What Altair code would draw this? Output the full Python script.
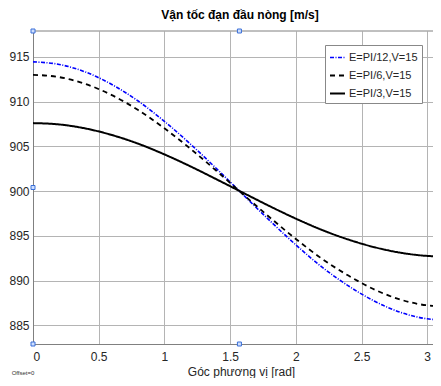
import altair as alt
import pandas as pd

x_rad = [0, 0.2, 0.4, 0.6, 0.8, 1.0, 1.2, 1.4, 1.6, 1.8, 2.0, 2.2, 2.4, 2.6, 2.8, 3.0, 3.1416]
v_pi12 = [914.45, 914.16, 913.31, 911.92, 910.07, 907.80, 905.23, 902.46, 899.58, 896.72,
          893.99, 891.49, 889.40, 887.68, 886.42, 885.72, 885.58]
v_pi6 = [913.0, 912.74, 911.97, 910.73, 909.06, 907.02, 904.71, 902.21, 899.62, 897.08,
         894.65, 892.42, 890.55, 888.98, 887.85, 887.22, 887.1]
v_pi3 = [907.6, 907.45, 907.0, 906.27, 905.3, 904.1, 902.75, 901.29, 899.8, 898.32,
         896.92, 895.65, 894.58, 893.72, 893.1, 892.75, 892.68]
series = ["E=PI/12,V=15", "E=PI/6,V=15", "E=PI/3,V=15"]

handle_x = [0, 1.5708, 0, 0, 1.5708]
handle_y = [917.9, 917.9, 900.4, 882.9, 882.9]

rows = []
for name, vals in zip(series, [v_pi12, v_pi6, v_pi3]):
    for xv, yv in zip(x_rad, vals):
        rows.append({"x": xv, "v": yv, "series": name})
df = pd.DataFrame(rows)
hdf = pd.DataFrame({"x": handle_x, "v": handle_y})

W, H = 400, 313
FONT = "Liberation Sans"
xscale = alt.Scale(domain=[0, 3.044], nice=False, zero=False)
yscale = alt.Scale(domain=[882.9, 917.9], nice=False, zero=False)

xaxis = alt.Axis(values=[0, 0.5, 1, 1.5, 2, 2.5, 3], format="~g", ticks=False,
                 labelFont=FONT, labelFontSize=12, labelColor="#262626", labelPadding=7,
                 titleFont=FONT, titleFontSize=12, titleFontWeight="normal", titleColor="#262626",
                 titleX=208, titleY=31, titleBaseline="alphabetic",
                 grid=True, gridColor="#b4b4b4", domainColor="#808080")
yaxis = alt.Axis(values=[885, 890, 895, 900, 905, 910, 915], ticks=False,
                 labelFont=FONT, labelFontSize=12, labelColor="#262626", labelPadding=4,
                 grid=True, gridColor="#b4b4b4", domainColor="#808080")

lines = alt.Chart(df).mark_line(clip=True, interpolate="monotone").encode(
    x=alt.X("x:Q", scale=xscale, axis=xaxis, title="Góc phương vị [rad]"),
    y=alt.Y("v:Q", scale=yscale, axis=yaxis, title=None),
    color=alt.Color("series:N", scale=alt.Scale(domain=series, range=["#0000ff", "#000000", "#000000"]),
                    legend=alt.Legend(title=None)),
    strokeDash=alt.StrokeDash("series:N", scale=alt.Scale(domain=series, range=[[4, 1.5, 1, 1.5], [5, 4], [1, 0]]),
                              legend=alt.Legend(title=None)),
    strokeWidth=alt.StrokeWidth("series:N", scale=alt.Scale(domain=series, range=[1.6, 2, 2]), legend=None),
)

handles = alt.Chart(hdf).mark_point(shape="square", size=16, filled=True, fill="#cfe0ff",
                                    stroke="#3a6fd8", strokeWidth=1, opacity=1, clip=False).encode(
    x=alt.X("x:Q", scale=xscale), y=alt.Y("v:Q", scale=yscale))

top_rule = alt.Chart(alt.Data(values=[{}])).mark_rule(color="#808080", strokeWidth=1).encode(
    x=alt.value(0), x2=alt.value(W), y=alt.value(0))

offset_txt = alt.Chart(alt.Data(values=[{}])).mark_text(
    text="Offset=0", font=FONT, fontSize=6, color="#333333", align="center").encode(
    x=alt.value(-10), y=alt.value(342))

chart = alt.layer(top_rule, lines, handles, offset_txt).properties(
    width=W, height=H,
    title=alt.TitleParams("Vận tốc đạn đầu nòng [m/s]", font=FONT, fontSize=12, fontWeight="bold",
                          color="black", offset=5, dx=7),
    padding={"left": 25, "top": 23, "right": 0, "bottom": 34},
    autosize=alt.AutoSizeParams(type="none"),
).configure_view(stroke=None).configure_legend(
    orient="none", legendX=292, legendY=14, symbolType="stroke", symbolSize=225,
    symbolStrokeWidth=2, labelFont=FONT, labelFontSize=11, labelColor="#262626",
    rowPadding=4, labelOffset=3, padding=4, strokeColor="#888888", fillColor="white",
    cornerRadius=0,
)

chart.save("out.html", embed_options={"renderer": "svg", "actions": False})
